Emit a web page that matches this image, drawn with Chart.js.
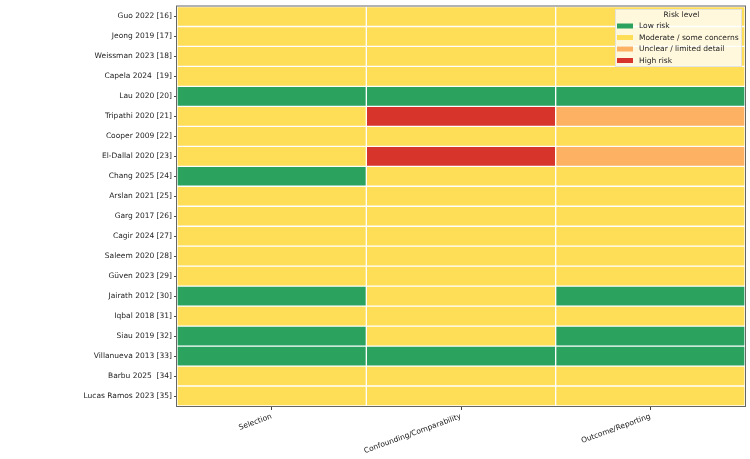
<!DOCTYPE html>
<html>
<head>
<meta charset="utf-8">
<script src="https://cdn.jsdelivr.net/npm/chart.js@4.4.1/dist/chart.umd.min.js"></script>
<style>
  html, body { margin: 0; padding: 0; background: #fff; }
  #wrap { width: 750px; height: 459px; position: relative; }
</style>
</head>
<body>
<div id="wrap"><canvas id="chartId"></canvas></div>
<script>
// studies top to bottom
const studies = [
  "Guo 2022 [16]", "Jeong 2019 [17]", "Weissman 2023 [18]", "Capela 2024  [19]",
  "Lau 2020 [20]", "Tripathi 2020 [21]", "Cooper 2009 [22]", "El-Dallal 2020 [23]",
  "Chang 2025 [24]", "Arslan 2021 [25]", "Garg 2017 [26]", "Cagir 2024 [27]",
  "Saleem 2020 [28]", "Güven 2023 [29]", "Jairath 2012 [30]", "Iqbal 2018 [31]",
  "Siau 2019 [32]", "Villanueva 2013 [33]", "Barbu 2025  [34]", "Lucas Ramos 2023 [35]"
];
const domains = ["Selection", "Confounding/Comparability", "Outcome/Reporting"];

// 0 low, 1 moderate, 2 unclear, 3 high
const selection = [1, 1, 1, 1, 0, 1, 1, 1, 0, 1, 1, 1, 1, 1, 0, 1, 0, 0, 1, 1];
const confounding = [1, 1, 1, 1, 0, 3, 1, 3, 1, 1, 1, 1, 1, 1, 1, 1, 1, 0, 1, 1];
const outcome = [1, 1, 1, 1, 0, 2, 1, 2, 1, 1, 1, 1, 1, 1, 0, 1, 0, 0, 1, 1];

const levelNames = ["Low risk", "Moderate / some concerns", "Unclear / limited detail", "High risk"];
const levelColors = ["#2ca25f", "#fedd57", "#fdb163", "#d7352b"];

const FONT = "DejaVu Sans";
const columns = [selection, confounding, outcome];

const datasets = columns.map((vals, c) => ({
  label: domains[c],
  data: vals.map(() => [c, c + 1]),
  backgroundColor: vals.map(v => levelColors[v]),
  borderColor: "#ffffff",
  borderWidth: 1,
  borderSkipped: false,
  grouped: false,
  barPercentage: 1,
  categoryPercentage: 1,
}));

// frame + legend inside the plot
const extras = {
  id: "extras",
  afterDraw(chart) {
    const { ctx, chartArea: a } = chart;
    ctx.save();
    ctx.strokeStyle = "#666";
    ctx.lineWidth = 1;
    ctx.strokeRect(a.left - 0.5, a.top - 0.5, a.right - a.left + 1, a.bottom - a.top + 1);

    const bx = 615, by = 9, bw = 127, bh = 58;
    ctx.fillStyle = "rgba(255,255,255,0.8)";
    ctx.strokeStyle = "rgba(220,220,220,0.8)";
    ctx.fillRect(bx, by, bw, bh);
    ctx.strokeRect(bx + 0.5, by + 0.5, bw - 1, bh - 1);

    ctx.fillStyle = "#222";
    ctx.font = "7.5px " + FONT;
    ctx.textBaseline = "middle";
    ctx.textAlign = "center";
    ctx.fillText("Risk level", bx + bw / 2 + 3, by + 6);
    ctx.textAlign = "left";
    levelNames.forEach((name, i) => {
      const y = by + 17 + i * 11.5;
      ctx.fillStyle = levelColors[i];
      ctx.fillRect(bx + 2, y - 2.5, 16, 5);
      ctx.fillStyle = "#222";
      ctx.fillText(name, bx + 24, y + 0.5);
    });
    ctx.restore();
  }
};

new Chart(document.getElementById("chartId"), {
  type: "bar",
  data: { labels: studies, datasets },
  plugins: [extras],
  options: {
    indexAxis: "y",
    responsive: true,
    maintainAspectRatio: false,
    animation: false,
    layout: { padding: { top: 5, right: 5, left: 0, bottom: 0 } },
    plugins: { legend: { display: false }, tooltip: { enabled: false } },
    scales: {
      x: {
        type: "linear",
        min: 0,
        max: 3,
        afterBuildTicks(scale) {
          scale.ticks = domains.map((d, i) => ({ value: i + 0.5 }));
        },
        afterFit(scale) { scale.height = 53; },
        ticks: {
          callback: (v) => domains[Math.floor(v)],
          minRotation: 20,
          maxRotation: 20,
          autoSkip: false,
          color: "#222",
          font: { family: FONT, size: 7.5 },
          padding: 2,
        },
        grid: { drawOnChartArea: false, tickLength: 4, color: "#444" },
        border: { display: false },
      },
      y: {
        afterFit(scale) { scale.width = 177; },
        ticks: {
          autoSkip: false,
          color: "#222",
          font: { family: FONT, size: 7.5 },
          padding: 2,
        },
        grid: { drawOnChartArea: false, offset: false, tickLength: 3, color: "#444" },
        border: { display: false },
      },
    },
  },
});
</script>
</body>
</html>
